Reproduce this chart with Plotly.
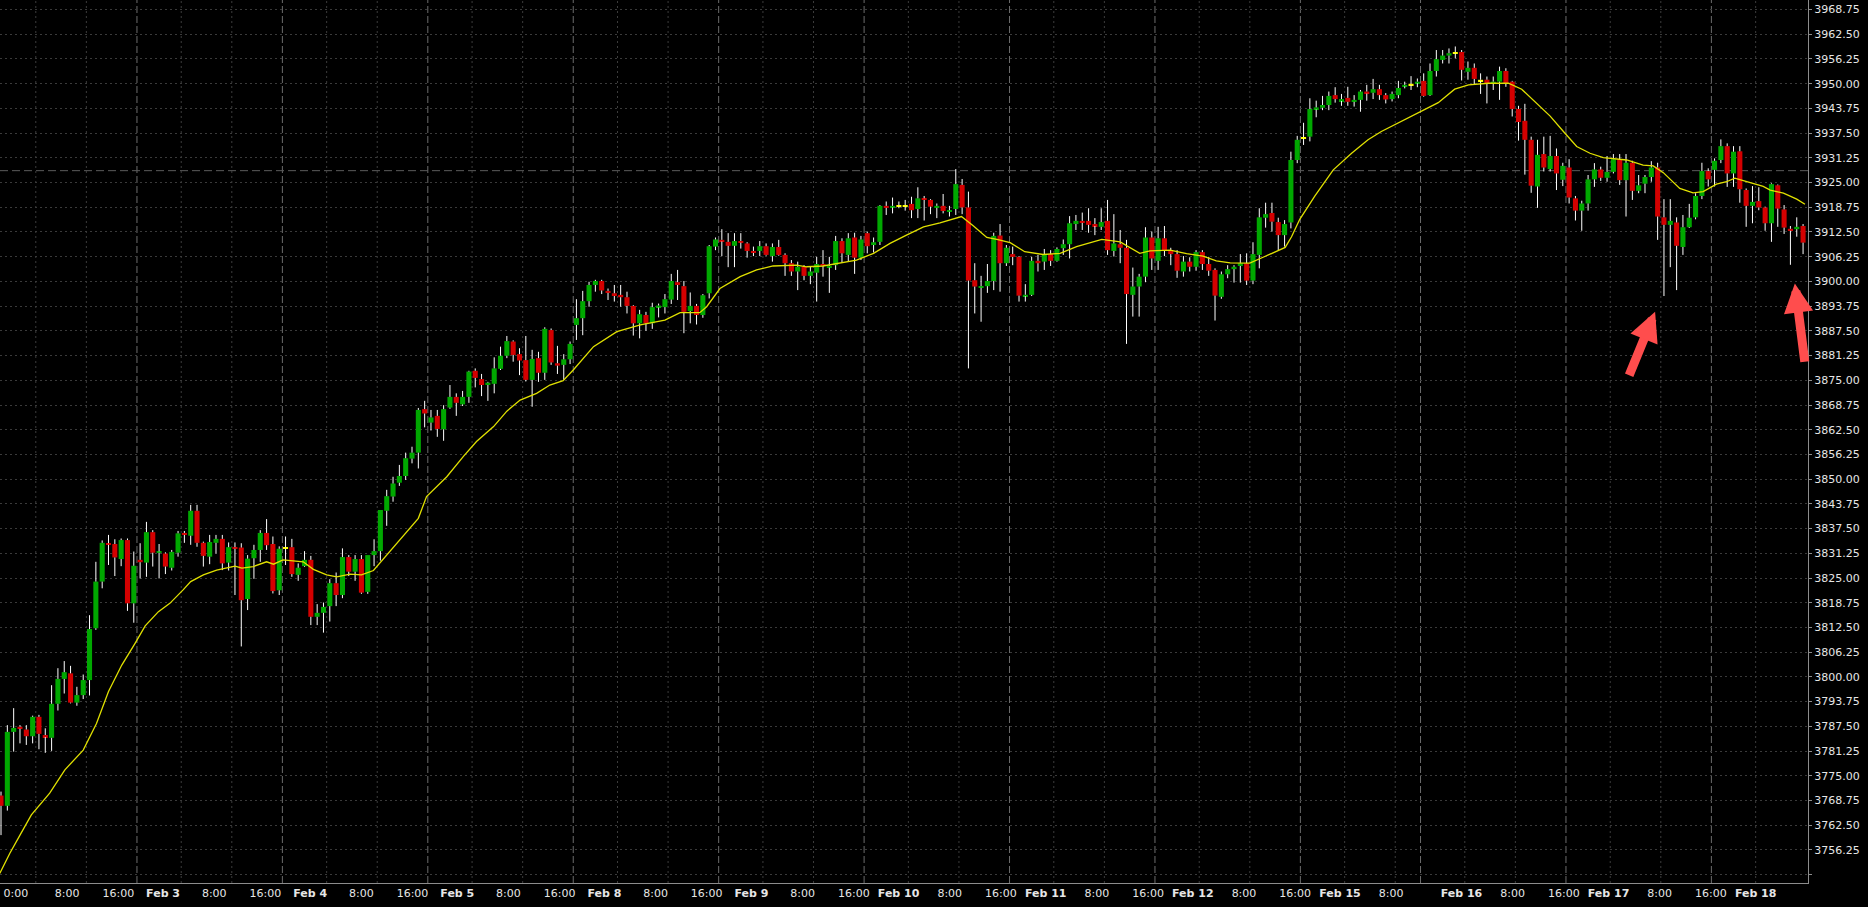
import pandas as pd
import plotly.graph_objects as go

# ---------------- data ----------------
session_start = ["2021-02-01 18:00", "2021-02-02 17:00", "2021-02-03 17:00", "2021-02-04 17:00",
                 "2021-02-07 17:00", "2021-02-08 17:00", "2021-02-09 17:00", "2021-02-10 17:00",
                 "2021-02-11 17:00", "2021-02-14 17:00", "2021-02-15 17:00", "2021-02-16 17:00",
                 "2021-02-17 17:00"]
session_bars = [22, 23, 23, 23, 23, 23, 23, 23, 23, 19, 23, 23, 15]

opens = [
    3770.0, 3767.4, 3786.1, 3787.4, 3786.7, 3785.0, 3789.9, 3785.3, 3784.6, 3793.2,
    3799.5, 3800.9, 3793.5, 3795.4, 3799.2, 3812.3, 3824.1, 3833.8, 3833.6, 3829.8,
    3834.6, 3818.6, 3829.6, 3828.9, 3836.6, 3831.4, 3831.2, 3827.6, 3831.4, 3836.4,
    3835.7, 3842.0, 3833.9, 3830.4, 3833.9, 3834.9, 3828.9, 3832.8, 3832.7, 3819.7,
    3830.0, 3832.1, 3836.4, 3833.6, 3821.9, 3832.6, 3832.8, 3825.8, 3828.0, 3829.6,
    3815.2, 3816.2, 3817.9, 3823.7, 3820.7, 3830.3, 3826.6, 3829.8, 3821.5, 3830.8,
    3831.8, 3842.0, 3845.6, 3849.1, 3850.8, 3855.2, 3856.7, 3867.7, 3864.3, 3866.0,
    3862.6, 3868.1, 3870.8, 3868.9, 3870.8, 3877.4, 3875.3, 3873.8, 3874.1, 3877.9,
    3881.2, 3884.8, 3881.6, 3880.1, 3875.1, 3880.6, 3876.9, 3887.7, 3879.3, 3878.9,
    3880.3, 3889.0, 3890.7, 3895.0, 3899.1, 3900.1, 3897.6, 3897.0, 3896.6, 3896.0,
    3893.8, 3889.4, 3891.5, 3889.4, 3893.4, 3893.5, 3895.4, 3899.8, 3898.8, 3892.5,
    3893.8, 3891.5, 3897.0, 3908.8, 3910.5, 3910.0, 3909.0, 3910.2, 3909.6, 3907.7,
    3907.7, 3908.9, 3906.4, 3908.7, 3906.7, 3904.6, 3902.5, 3903.7, 3901.4, 3902.2,
    3904.4, 3903.5, 3904.1, 3910.2, 3906.7, 3911.1, 3906.0, 3912.2, 3909.2, 3910.0,
    3919.1, 3918.7, 3919.1, 3919.1, 3919.6, 3918.3, 3921.0, 3920.6, 3918.6, 3919.1,
    3917.6, 3918.3, 3924.4, 3918.7, 3900.3, 3898.4, 3898.8, 3900.1, 3911.6, 3904.6,
    3906.9, 3906.2, 3896.3, 3896.6, 3905.2, 3905.0, 3906.9, 3905.2, 3908.4, 3909.4,
    3914.5, 3915.3, 3915.3, 3914.5, 3913.8, 3915.3, 3907.7, 3909.4, 3908.5, 3896.6,
    3898.7, 3901.2, 3911.1, 3905.2, 3910.9, 3907.7, 3906.9, 3902.5, 3905.0, 3903.7,
    3907.4, 3904.4, 3902.9, 3896.1, 3901.8, 3903.1, 3903.9, 3904.6, 3900.2, 3906.7,
    3916.1, 3917.3, 3915.0, 3911.7, 3914.9, 3930.7, 3936.3, 3936.6, 3943.5, 3943.9,
    3944.6, 3947.1, 3945.6, 3946.4, 3945.4, 3945.9, 3948.0, 3947.7, 3948.6, 3947.1,
    3946.1, 3947.1, 3949.3, 3949.8, 3950.1, 3950.7, 3947.1, 3953.2, 3956.0, 3957.1,
    3957.8, 3958.0, 3953.0, 3954.0, 3950.8, 3951.0, 3950.1, 3950.5, 3953.2, 3950.5,
    3943.6, 3940.6, 3935.8, 3924.0, 3932.2, 3928.4, 3931.7, 3925.7, 3928.8, 3921.0,
    3917.9, 3919.7, 3925.8, 3928.3, 3926.2, 3927.7, 3930.9, 3925.6, 3930.0, 3922.9,
    3924.7, 3926.4, 3928.8, 3916.2, 3914.3, 3914.9, 3908.7, 3913.7, 3916.2, 3921.6,
    3927.9, 3928.2, 3930.7, 3934.2, 3927.3, 3932.9, 3923.1, 3919.1, 3920.3, 3918.7,
    3914.7, 3924.3, 3918.2, 3913.3, 3913.2, 3914.0,
]
highs = [
    3771.0, 3787.8, 3792.1, 3787.8, 3787.8, 3790.2, 3790.4, 3787.0, 3797.9, 3802.2,
    3804.0, 3802.8, 3797.5, 3800.6, 3815.6, 3829.1, 3834.5, 3835.9, 3834.8, 3835.0,
    3835.0, 3831.7, 3833.8, 3839.2, 3837.1, 3833.6, 3831.5, 3832.1, 3836.9, 3836.9,
    3843.5, 3843.5, 3834.2, 3835.9, 3835.9, 3835.9, 3834.0, 3834.0, 3833.8, 3830.8,
    3833.4, 3837.1, 3839.9, 3835.5, 3833.0, 3835.5, 3834.9, 3828.7, 3831.8, 3830.6,
    3818.4, 3818.8, 3824.7, 3826.4, 3832.5, 3830.8, 3830.8, 3830.8, 3830.8, 3834.8,
    3842.2, 3847.3, 3850.6, 3853.6, 3856.7, 3858.2, 3868.0, 3869.8, 3867.5, 3867.5,
    3868.7, 3873.8, 3871.7, 3872.3, 3877.4, 3878.0, 3876.6, 3874.6, 3880.8, 3883.5,
    3886.2, 3885.1, 3883.1, 3886.2, 3882.7, 3882.2, 3888.4, 3888.1, 3883.7, 3881.6,
    3884.8, 3895.5, 3897.6, 3899.9, 3900.4, 3900.4, 3898.2, 3899.1, 3899.1, 3897.4,
    3894.0, 3892.8, 3892.3, 3894.6, 3894.4, 3896.8, 3901.9, 3902.9, 3900.1, 3897.2,
    3894.3, 3896.8, 3909.2, 3911.1, 3913.2, 3912.2, 3912.2, 3912.2, 3909.9, 3908.8,
    3910.2, 3909.6, 3909.6, 3910.5, 3907.1, 3905.4, 3905.0, 3904.1, 3903.7, 3906.2,
    3907.9, 3906.2, 3911.5, 3910.9, 3912.2, 3912.3, 3911.5, 3912.6, 3911.1, 3919.3,
    3920.2, 3921.2, 3920.2, 3920.6, 3921.4, 3923.8, 3921.6, 3920.8, 3919.7, 3922.1,
    3919.1, 3928.4, 3925.9, 3922.7, 3904.6, 3901.4, 3904.4, 3912.3, 3914.5, 3909.2,
    3908.8, 3906.4, 3899.3, 3906.2, 3906.7, 3908.2, 3907.9, 3908.6, 3910.6, 3916.5,
    3916.8, 3917.4, 3918.5, 3916.0, 3918.5, 3920.6, 3917.0, 3913.0, 3910.5, 3903.5,
    3901.9, 3913.7, 3912.6, 3913.8, 3914.0, 3908.5, 3907.9, 3906.4, 3906.1, 3907.9,
    3907.9, 3906.2, 3903.3, 3902.5, 3904.1, 3904.1, 3906.9, 3907.1, 3909.9, 3918.5,
    3919.9, 3919.9, 3916.1, 3915.5, 3932.8, 3936.8, 3940.1, 3946.3, 3945.7, 3946.9,
    3948.0, 3949.1, 3947.4, 3949.2, 3947.1, 3948.4, 3949.7, 3951.2, 3949.7, 3947.6,
    3948.0, 3950.7, 3950.5, 3951.9, 3951.3, 3952.6, 3955.1, 3958.5, 3958.5, 3958.9,
    3959.4, 3958.5, 3955.6, 3955.1, 3952.6, 3951.8, 3951.8, 3954.3, 3953.9, 3950.7,
    3944.4, 3944.9, 3936.6, 3935.8, 3936.6, 3936.8, 3933.6, 3930.0, 3930.9, 3921.6,
    3920.4, 3926.9, 3929.9, 3929.0, 3931.7, 3932.2, 3932.2, 3932.2, 3930.5, 3926.9,
    3926.9, 3930.4, 3930.0, 3920.8, 3920.8, 3916.2, 3916.8, 3919.6, 3922.3, 3930.0,
    3928.6, 3931.1, 3935.9, 3934.9, 3934.2, 3934.2, 3923.5, 3924.1, 3923.8, 3918.9,
    3924.8, 3924.5, 3919.3, 3914.0, 3916.2, 3914.5,
]
lows = [
    3760.0, 3766.2, 3781.1, 3783.2, 3782.8, 3783.2, 3781.7, 3780.8, 3781.3, 3791.5,
    3795.8, 3793.3, 3792.7, 3794.4, 3795.3, 3811.9, 3822.4, 3828.3, 3825.5, 3828.0,
    3816.7, 3813.7, 3824.9, 3825.3, 3827.9, 3824.9, 3826.0, 3826.9, 3830.4, 3833.9,
    3833.4, 3832.9, 3827.9, 3828.5, 3831.2, 3827.0, 3826.9, 3820.7, 3807.7, 3816.9,
    3824.8, 3829.1, 3832.1, 3821.1, 3820.7, 3828.3, 3825.3, 3824.3, 3827.8, 3813.1,
    3813.1, 3811.2, 3814.0, 3817.9, 3819.9, 3825.5, 3824.3, 3821.0, 3821.0, 3828.0,
    3829.4, 3838.2, 3844.3, 3848.3, 3849.8, 3854.0, 3852.7, 3863.1, 3862.3, 3860.7,
    3859.7, 3867.8, 3866.0, 3868.5, 3869.3, 3873.2, 3871.0, 3869.8, 3871.7, 3877.6,
    3880.6, 3879.7, 3876.3, 3874.7, 3868.3, 3874.6, 3875.1, 3878.9, 3876.6, 3875.1,
    3879.1, 3885.2, 3886.4, 3893.6, 3897.4, 3896.8, 3895.3, 3894.9, 3893.6, 3891.9,
    3886.3, 3885.6, 3887.5, 3888.0, 3890.9, 3891.9, 3894.3, 3895.3, 3886.9, 3889.4,
    3889.1, 3890.8, 3895.7, 3907.9, 3906.4, 3903.6, 3903.6, 3908.3, 3906.0, 3906.4,
    3906.4, 3906.5, 3905.0, 3906.5, 3901.4, 3901.4, 3897.8, 3900.3, 3899.3, 3894.9,
    3901.2, 3897.1, 3902.9, 3904.7, 3905.0, 3901.9, 3905.4, 3907.1, 3907.3, 3909.2,
    3916.8, 3917.2, 3918.5, 3917.9, 3916.0, 3916.0, 3915.4, 3917.0, 3916.0, 3917.2,
    3916.4, 3916.8, 3917.0, 3878.0, 3891.9, 3889.8, 3897.1, 3897.8, 3897.4, 3903.9,
    3904.1, 3894.9, 3894.9, 3896.3, 3902.5, 3902.9, 3903.9, 3905.0, 3906.7, 3905.8,
    3913.0, 3913.0, 3912.3, 3911.7, 3913.0, 3906.7, 3906.3, 3904.6, 3884.2, 3891.1,
    3891.1, 3899.8, 3902.9, 3902.9, 3906.4, 3904.1, 3900.9, 3901.2, 3902.5, 3902.7,
    3902.9, 3901.4, 3890.1, 3895.6, 3900.8, 3899.7, 3899.7, 3899.1, 3899.3, 3903.3,
    3913.6, 3912.6, 3907.9, 3908.8, 3913.4, 3929.9, 3934.5, 3935.4, 3941.5, 3943.3,
    3943.3, 3945.2, 3944.4, 3944.4, 3944.2, 3942.9, 3945.7, 3946.1, 3945.9, 3945.0,
    3945.5, 3946.3, 3948.8, 3948.4, 3949.1, 3946.7, 3946.9, 3951.8, 3955.1, 3955.1,
    3956.4, 3950.8, 3951.0, 3949.7, 3947.4, 3945.0, 3948.4, 3945.9, 3949.2, 3941.7,
    3935.6, 3927.0, 3922.4, 3918.6, 3927.8, 3927.8, 3923.1, 3924.1, 3919.7, 3915.4,
    3912.8, 3917.9, 3923.9, 3925.4, 3925.2, 3927.3, 3924.4, 3916.4, 3920.6, 3922.3,
    3922.3, 3925.2, 3910.5, 3896.3, 3903.6, 3897.8, 3906.7, 3913.5, 3915.7, 3920.8,
    3924.0, 3924.0, 3929.9, 3923.9, 3923.9, 3919.9, 3913.8, 3914.7, 3918.0, 3912.8,
    3910.0, 3913.8, 3912.0, 3904.2, 3911.3, 3906.9,
]
closes = [
    3767.4, 3786.1, 3787.1, 3786.9, 3785.0, 3789.9, 3785.6, 3784.8, 3793.2, 3799.5,
    3801.2, 3793.5, 3795.4, 3799.2, 3812.1, 3824.1, 3833.9, 3833.4, 3830.2, 3834.6,
    3818.6, 3828.1, 3829.0, 3836.6, 3831.4, 3831.7, 3827.9, 3831.6, 3836.3, 3835.9,
    3842.0, 3833.9, 3830.6, 3834.1, 3834.9, 3828.7, 3832.8, 3832.4, 3819.4, 3829.9,
    3832.1, 3836.4, 3833.3, 3821.7, 3832.4, 3832.6, 3826.0, 3827.6, 3829.6, 3815.2,
    3816.2, 3817.7, 3823.7, 3820.7, 3830.3, 3826.6, 3829.8, 3821.3, 3830.8, 3831.8,
    3842.2, 3845.7, 3848.9, 3850.8, 3855.3, 3856.7, 3867.5, 3866.6, 3865.6, 3862.7,
    3867.7, 3870.8, 3869.3, 3870.8, 3877.2, 3875.6, 3873.8, 3874.4, 3878.0, 3881.2,
    3884.9, 3881.4, 3880.0, 3875.1, 3880.4, 3876.9, 3888.0, 3879.5, 3878.7, 3880.3,
    3884.2, 3890.7, 3895.0, 3899.1, 3900.1, 3897.7, 3897.1, 3896.3, 3896.0, 3893.8,
    3889.4, 3891.7, 3889.4, 3893.5, 3893.9, 3895.5, 3900.1, 3899.1, 3892.3, 3893.8,
    3891.5, 3896.5, 3908.9, 3910.6, 3910.1, 3909.0, 3910.2, 3909.8, 3907.7, 3907.2,
    3908.9, 3906.7, 3908.7, 3906.7, 3904.6, 3902.5, 3903.7, 3901.4, 3902.5, 3904.4,
    3903.9, 3903.9, 3910.2, 3907.1, 3910.9, 3906.0, 3910.6, 3908.9, 3909.9, 3919.1,
    3918.6, 3919.1, 3919.1, 3919.1, 3918.0, 3921.0, 3920.6, 3918.9, 3919.1, 3917.8,
    3918.0, 3924.6, 3918.7, 3900.2, 3898.7, 3898.8, 3900.1, 3911.5, 3904.6, 3908.5,
    3906.2, 3896.4, 3896.6, 3905.2, 3904.6, 3906.9, 3905.2, 3908.2, 3909.4, 3914.7,
    3915.3, 3914.8, 3914.3, 3914.0, 3915.0, 3907.9, 3909.6, 3908.5, 3896.8, 3898.7,
    3901.2, 3911.1, 3905.8, 3910.9, 3907.9, 3906.9, 3902.7, 3905.0, 3903.7, 3907.4,
    3904.4, 3902.7, 3896.4, 3901.8, 3903.1, 3903.7, 3904.6, 3900.2, 3906.9, 3916.2,
    3917.0, 3915.1, 3911.7, 3914.5, 3930.7, 3935.8, 3936.3, 3943.6, 3944.0, 3944.6,
    3946.9, 3946.1, 3946.1, 3945.4, 3945.9, 3948.0, 3947.5, 3948.6, 3947.1, 3946.0,
    3947.4, 3948.9, 3949.7, 3949.8, 3950.5, 3946.9, 3953.2, 3956.2, 3957.1, 3957.7,
    3957.8, 3953.5, 3954.0, 3951.2, 3950.8, 3950.1, 3950.5, 3953.2, 3950.1, 3943.6,
    3940.3, 3935.8, 3924.2, 3932.0, 3928.8, 3931.7, 3927.3, 3929.2, 3921.2, 3917.9,
    3919.7, 3925.8, 3928.3, 3926.2, 3927.7, 3930.9, 3925.6, 3930.0, 3922.9, 3924.3,
    3926.4, 3928.8, 3916.4, 3914.3, 3915.3, 3909.0, 3913.7, 3916.1, 3921.6, 3927.9,
    3925.8, 3930.5, 3934.2, 3927.3, 3932.8, 3923.3, 3919.1, 3920.1, 3918.7, 3914.7,
    3924.6, 3918.4, 3913.6, 3912.8, 3913.8, 3909.8,
]

# moving-average line (x in bar units)
ma_x = [-0.2, 1.4, 3.0, 4.8, 7.7, 10.1, 13.0, 15.1, 17.0, 19.1, 21.2, 22.8, 24.9, 26.7,
        28.8, 30.0, 32.0, 34.1, 37.0, 38.1, 39.9, 42.0, 43.1, 44.6, 47.8, 49.4, 51.5,
        53.1, 55.2, 57.0, 58.9, 61.0, 63.6, 66.0, 67.3, 70.5, 73.1, 75.2, 77.9, 80.0,
        82.1, 84.7, 86.8, 88.9, 90.5, 93.7, 97.4, 101.1, 105.0, 107.4, 110.5, 111.6,
        113.7, 116.9, 119.5, 122.1, 125.8, 127.4, 130.0, 132.7, 135.3, 138.0, 140.6,
        143.2, 145.9, 148.5, 151.9, 153.8, 155.9, 157.5, 159.6, 161.9, 164.8, 167.5,
        170.1, 174.1, 177.0, 180.1, 181.7, 184.9, 187.5, 190.1, 192.2, 194.4, 197.5,
        199.6, 203.1, 204.1, 205.4, 207.8, 210.7, 213.6, 216.2, 218.3, 220.4, 222.6,
        225.2, 227.3, 229.9, 232.1, 235.2, 238.4, 240.5, 242.6, 245.0, 247.1, 249.2,
        251.3, 253.4, 257.1, 259.7, 261.3, 262.9, 265.5, 267.6, 269.2, 271.3, 272.9,
        274.2, 276.1, 278.7, 279.8, 281.9, 284.0, 285.3]
ma_y = [3750.3, 3755.4, 3760.0, 3765.1, 3770.6, 3776.5, 3781.5, 3788.2, 3796.3, 3803.0,
        3808.5, 3812.9, 3816.5, 3818.6, 3822.0, 3824.1, 3825.8, 3827.0, 3828.0, 3827.5,
        3827.9, 3829.1, 3828.5, 3829.6, 3829.1, 3827.2, 3825.8, 3825.3, 3826.0, 3825.8,
        3826.9, 3830.8, 3835.5, 3840.1, 3845.6, 3850.6, 3855.7, 3859.5, 3863.3, 3867.2,
        3870.0, 3871.7, 3873.8, 3874.9, 3877.6, 3883.5, 3887.3, 3889.0, 3890.2, 3892.1,
        3892.1, 3893.6, 3898.2, 3901.2, 3902.9, 3903.9, 3904.1, 3903.7, 3903.9, 3904.6,
        3905.4, 3907.1, 3909.6, 3911.7, 3913.8, 3914.8, 3916.4, 3914.0, 3911.1, 3910.6,
        3909.8, 3907.5, 3906.8, 3907.1, 3908.8, 3910.6, 3910.0, 3907.1, 3907.7, 3907.9,
        3907.0, 3906.4, 3905.2, 3904.7, 3904.6, 3906.1, 3908.6, 3911.3, 3915.7, 3921.6,
        3928.2, 3932.4, 3935.8, 3937.9, 3939.6, 3941.2, 3943.3, 3945.2, 3948.6, 3949.7,
        3950.1, 3950.1, 3948.6, 3945.5, 3941.8, 3937.9, 3934.1, 3932.4, 3931.3, 3930.7,
        3929.4, 3929.2, 3927.5, 3923.5, 3922.4, 3922.7, 3924.6, 3925.2, 3926.1, 3925.2,
        3924.0, 3923.1, 3922.3, 3920.8, 3919.5]

marker_level = 3928.0                      # long dashed horizontal line
arrow_tip_x = [261.6, 283.7]
arrow_tip_y = [3892.3, 3899.5]
arrow_tail_x = [257.4, 285.3]
arrow_tail_y = [3875.9, 3879.3]

y_tick_values = [3750 + 6.25 * i for i in range(36)]
y_tick_text = ["" if v == 3750 else f"{v:.2f}" for v in y_tick_values]

# ---------------- derived structure ----------------
bar_time = []
for start, n in zip(session_start, session_bars):
    bar_time.extend(pd.date_range(start, periods=n, freq="h"))
idx = list(range(len(bar_time)))

major_lines, minor_lines, label_pos, label_txt = [], [], [], []
first_midnight = True
for i in range(1, len(bar_time)):
    prev, cur = bar_time[i - 1], bar_time[i]
    g = i - 0.5
    if cur - prev > pd.Timedelta(hours=1):
        major_lines.append(g)
        if prev.hour == 15:
            label_pos.append(g)
            label_txt.append("16:00")
    elif cur.hour == 0:
        minor_lines.append(g)
        label_pos.append(g)
        if first_midnight:
            label_txt.append("0:00")
            first_midnight = False
        else:
            label_txt.append(f"<b>{cur.strftime('%b')} {cur.day}</b>")
    elif cur.hour == 8:
        minor_lines.append(g)
        label_pos.append(g)
        label_txt.append("8:00")

last_lab = label_pos[-1]
label_shown = [p - 3.2 * (1 - p / last_lab) for p in label_pos]

# ---------------- figure ----------------
GREEN, RED, DOJI = "#00a800", "#d40000", "#ffff00"
MIN_H = 0.35

base, height, colors = [], [], []
wx, wy = [], []
for k, (o, c) in enumerate(zip(opens, closes)):
    lo, hi = min(o, c), max(o, c)
    if hi - lo < MIN_H:
        mid = (hi + lo) / 2
        lo, hi = mid - MIN_H / 2, mid + MIN_H / 2
    base.append(lo)
    height.append(hi - lo)
    colors.append(GREEN if c > o else RED if c < o else DOJI)
    # wick segments outside the body (bars are drawn below scatter lines)
    if highs[k] > hi:
        wx += [k, k, None]
        wy += [hi, highs[k], None]
    if lows[k] < lo:
        wx += [k, k, None]
        wy += [lows[k], lo, None]

fig = go.Figure()
fig.add_trace(go.Bar(x=idx, y=height, base=base, width=0.8,
                     marker=dict(color=colors, line=dict(width=0)), hoverinfo="skip"))
fig.add_trace(go.Scatter(x=wx, y=wy, mode="lines", line=dict(color="#ffffff", width=1),
                         hoverinfo="skip"))
fig.add_trace(go.Scatter(x=ma_x, y=ma_y, mode="lines", line=dict(color="#e0e000", width=1.3),
                         hoverinfo="skip"))

shapes = []
for g in minor_lines:
    shapes.append(dict(type="line", xref="x", yref="paper", x0=g, x1=g, y0=0, y1=1,
                       line=dict(color="#3c3c3c", width=1, dash="2px,3px"), layer="below"))
for g in major_lines:
    shapes.append(dict(type="line", xref="x", yref="paper", x0=g, x1=g, y0=0, y1=1,
                       line=dict(color="#6c6c6c", width=1, dash="7px,3px"), layer="below"))
shapes.append(dict(type="line", xref="paper", yref="y", x0=0, x1=1, y0=marker_level, y1=marker_level,
                   line=dict(color="#5c5c5c", width=1, dash="8px,4px"), layer="below"))

annotations = []
for tx, ty, ax_, ay_ in zip(arrow_tip_x, arrow_tip_y, arrow_tail_x, arrow_tail_y):
    annotations.append(dict(x=tx, y=ty, xref="x", yref="y", ax=ax_, ay=ay_, axref="x", ayref="y",
                            text="", showarrow=True, arrowhead=2, arrowsize=0.65, arrowwidth=9,
                            arrowcolor="#ff4d4d"))

font = dict(family="DejaVu Sans", size=11, color="#e6e6e6")
fig.update_layout(
    width=1868, height=907,
    margin=dict(l=0, r=60, t=0, b=24, pad=0),
    paper_bgcolor="#000000", plot_bgcolor="#000000",
    showlegend=False, barmode="overlay",
    shapes=shapes, annotations=annotations,
    xaxis=dict(range=[-0.16, 285.78], showgrid=False, zeroline=False,
               tickmode="array", tickvals=label_shown, ticktext=label_txt, ticks="",
               showline=True, linecolor="#8c8c8c", linewidth=1, tickfont=font),
    yaxis=dict(side="right", range=[3747.89, 3971.15], tickmode="array",
               tickvals=y_tick_values, ticktext=y_tick_text,
               showgrid=True, gridcolor="#3a3a3a", griddash="2px,3px", gridwidth=1,
               zeroline=False, showline=True, linecolor="#8c8c8c", linewidth=1,
               ticks="outside", ticklen=3, tickcolor="#8c8c8c", tickfont=font),
)

fig.write_html("out.html", config={"displayModeBar": False},
               post_script="document.body.style.margin='0';document.body.style.overflow='hidden';")
